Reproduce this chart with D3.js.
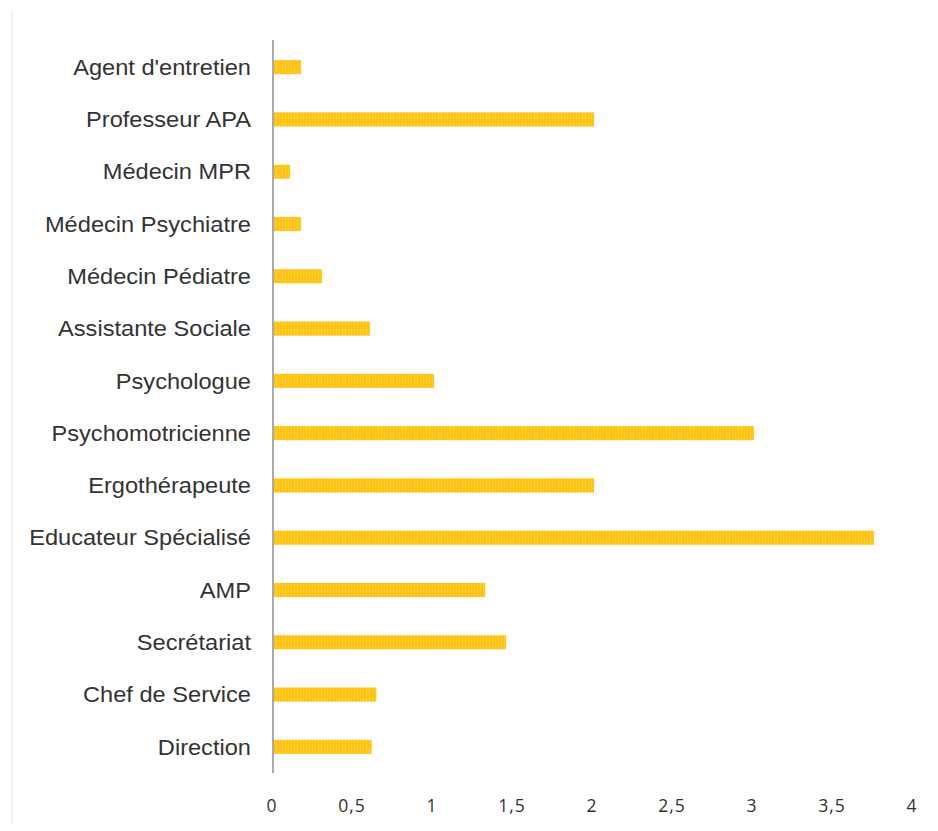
<!DOCTYPE html>
<html><head><meta charset="utf-8">
<script src="https://cdn.jsdelivr.net/npm/d3@7"></script>
<style>body{margin:0;background:#fff}svg{display:block}</style>
</head><body>
<script>
const categories = ["Agent d'entretien","Professeur APA","Médecin MPR","Médecin Psychiatre","Médecin Pédiatre","Assistante Sociale","Psychologue","Psychomotricienne","Ergothérapeute","Educateur Spécialisé","AMP","Secrétariat","Chef de Service","Direction"];
const values = [0.17, 2.0, 0.1, 0.17, 0.3, 0.6, 1.0, 3.0, 2.0, 3.75, 1.32, 1.45, 0.64, 0.61];
const tickValues = [0,0.5,1,1.5,2,2.5,3,3.5,4];
const tickLabels = ["0","0,5","1","1,5","2","2,5","3","3,5","4"];

const W=938,H=831;
const svg=d3.select("body").append("svg").attr("width",W).attr("height",H);
const defs=svg.append("defs");
const pat=defs.append("pattern").attr("id","stripe").attr("patternUnits","userSpaceOnUse").attr("width",3).attr("height",4);
pat.append("rect").attr("width",3).attr("height",4).attr("fill","#FFC20E");
pat.append("rect").attr("width",1).attr("height",4).attr("fill","#FFCF3A");

// faint frame line at left
svg.append("line").attr("x1",12).attr("x2",12).attr("y1",10).attr("y2",825).attr("stroke","#eee").attr("stroke-width",1.5);

const x=d3.scaleLinear().domain([0,4]).range([274,914]);
const y=d3.scaleBand().domain(categories).range([41,773]).paddingInner(0.73).paddingOuter(0.365);

svg.selectAll("rect.bar").data(values).join("rect").attr("class","bar")
 .attr("x",x(0)).attr("y",(d,i)=>y(categories[i]))
 .attr("width",d=>x(d)-x(0)).attr("height",y.bandwidth())
 .attr("fill","url(#stripe)");

// y axis line
svg.append("line").attr("x1",273).attr("x2",273).attr("y1",40).attr("y2",773).attr("stroke","#aaaaaa").attr("stroke-width",2);

const g=svg.append("g");
const labels=g.selectAll("text.cat").data(categories).join("text").attr("class","cat")
 .attr("x",0).attr("y",d=>y(d)+y.bandwidth()/2).attr("dy","0.35em")
 .attr("text-anchor","end").attr("font-family","'Liberation Sans', Arial, sans-serif")
 .attr("font-size",22).attr("fill","#333").text(d=>d);
const longest=labels.filter(d=>d==="Educateur Spécialisé").node().getComputedTextLength();
const sx=222/longest;
g.attr("transform",`translate(251,0) scale(${sx},1)`);

svg.selectAll("text.tick").data(tickValues).join("text").attr("class","tick")
 .attr("x",d=>x(d)-2).attr("y",812).attr("text-anchor","middle")
 .attr("font-family","'Open Sans', sans-serif").attr("font-size",17.5).attr("letter-spacing",1)
 .attr("fill","#333")
 .text((d,i)=>tickLabels[i]);
</script>
</body></html>
